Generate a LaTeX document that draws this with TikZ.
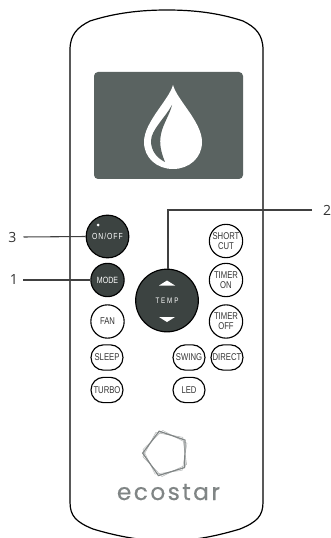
\documentclass[tikz,border=0pt]{standalone}
\usepackage{fontspec}
\setmainfont{Open Sans}
\newfontfamily\logofont[FakeBold=0.5]{Poppins}
\newfontfamily\keyfont[FakeStretch=0.78]{Liberation Sans}
\usetikzlibrary{shapes.geometric,shapes.misc}
\definecolor{screengray}{HTML}{5A6361}
\definecolor{keydark}{HTML}{3C4341}
\definecolor{logogray}{HTML}{808585}
\tikzset{
    keyline/.style={draw=black,line width=0.85pt},
    roundkey/.style={keyline,circle,fill=white,inner sep=0,minimum size=25pt,font=\keyfont\fontsize{7.4}{7.6}\selectfont,align=center,text=black!80},
    darkkey/.style={roundkey,fill=keydark,text=white},
    pillkey/.style={keyline,rounded rectangle,fill=white,inner sep=0,minimum width=24pt,minimum height=19pt,font=\keyfont\fontsize{7.4}{7.6}\selectfont,text=black!80},
    leader/.style={draw=black!75,line width=0.8pt},
    callout/.style={font=\fontsize{10.5}{12}\selectfont,text=black!80},
    arrowmark/.style={fill=white,draw=none},
    petal/.style={regular polygon,regular polygon sides=5,inner sep=0,minimum size=35pt}
}
\begin{document}
\begin{tikzpicture}[x=0.75pt,y=-0.75pt]
    \useasboundingbox (0,0) rectangle (331,538);
    % body
    \draw[line width=0.9pt] (70,230) -- (70,50)
        .. controls (70,34) and (78,27) .. (90,21)
        .. controls (115,13) and (140,10) .. (167,10)
        .. controls (194,10) and (219,13) .. (243,21)
        .. controls (255,27) and (263,34) .. (263,50)
        -- (263,502)
        .. controls (263,516) and (257,522) .. (240,529)
        .. controls (220,535) and (195,541) .. (167,541)
        .. controls (139,541) and (113,535) .. (93,529)
        .. controls (76,522) and (70,516) .. (70,502) -- cycle;
    % screen
    \fill[screengray,rounded corners=3pt] (94,72) rectangle (243,179);
    \fill[white] (173,85) .. controls (177,100) and (202,122) .. (202,142)
        .. controls (202,158) and (189,169) .. (173,169)
        .. controls (157,169) and (144,158) .. (144,142)
        .. controls (144,122) and (169,100) .. (173,85) -- cycle;
    \fill[screengray] (172,105) .. controls (165,118) and (151,130) .. (151,141)
        .. controls (151,151) and (157,158) .. (165,162)
        .. controls (161,152) and (159,144) .. (161,134)
        .. controls (163,124) and (170,114) .. (172,105) -- cycle;
    % keys
    \node[darkkey,minimum size=32pt,font=\keyfont\fontsize{6.6}{7}\selectfont] (onoff) at (107.5,236.5) {\raisebox{-1.5pt}{O\kern0.7pt N\kern0.7pt/\kern0.7pt O\kern0.7pt F\kern0.7pt F}};
    \fill[white] (98,225) circle (1.5);
    \node[darkkey,font=\keyfont\fontsize{6.8}{7}\selectfont] (mode) at (107.5,280) {MODE};
    \node[darkkey,minimum size=47pt,font=\keyfont\fontsize{6}{7}\selectfont] (temp) at (167,300.5) {T\kern1.4pt E\kern1.4pt M\kern1.4pt P};
    \fill[arrowmark] (159,285.5) -- (167,280.5) -- (175,285.5) -- cycle;
    \fill[arrowmark] (159,317) -- (167,322) -- (175,317) -- cycle;
    \node[roundkey] (fan) at (107.5,321.5) {FAN};
    \node[roundkey] (shortcut) at (226,241) {SHORT\\CUT};
    \node[roundkey] (timeron) at (226,280) {TIMER\\ON};
    \node[roundkey] (timeroff) at (226,321.5) {TIMER\\OFF};
    \node[pillkey] (sleep) at (107,357.5) {SLEEP};
    \node[pillkey] (turbo) at (107,390) {TURBO};
    \node[pillkey] (swing) at (189,357.5) {SWING};
    \node[pillkey] (direct) at (227,357.5) {DIRECT};
    \node[pillkey] (led) at (189,390) {LED};
    % leaders
    \node[callout] (three) at (12.5,237) {3};
    \node[callout] (one) at (14,280) {1};
    \node[callout] (two) at (327,210) {2};
    \draw[leader] (three) ++(11,0) -- (onoff.west);
    \draw[leader] (one) ++(9,0) -- (mode.west);
    \draw[leader] (two) ++(-15,0) -- (168,210) -- (temp.north -| 168,0);
    % logo
    \foreach \ang/\tone/\lw in {8/50/0.4,26/60/0.4,17/100/0.9}
        \node[petal,draw=logogray!\tone,rotate=\ang,line width=\lw pt] (star\ang) at (166,453.5) {};
    \node[font=\logofont\fontsize{17.5}{19}\selectfont,text=logogray,anchor=base] (brand) at (168.5,500) {e\kern1.8pt c\kern1.8pt o\kern1.8pt s\kern1.8pt t\kern1.8pt a\kern1.8pt r};
\end{tikzpicture}
\end{document}
